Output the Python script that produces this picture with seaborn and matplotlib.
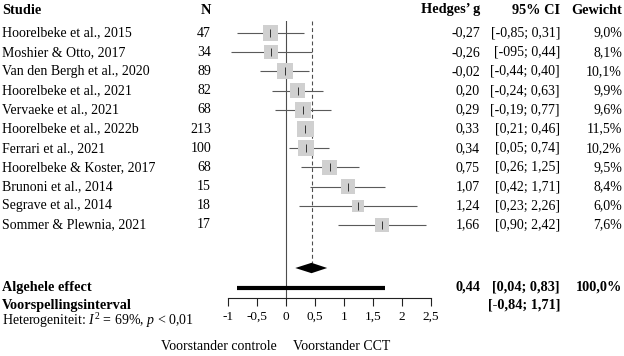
import matplotlib
matplotlib.use("Agg")
import matplotlib.pyplot as plt
import matplotlib.transforms as mtransforms
import seaborn as sns
import numpy as np
import pandas as pd

studies = ["Hoorelbeke et al., 2015", "Moshier & Otto, 2017", "Van den Bergh et al., 2020",
           "Hoorelbeke et al., 2021", "Vervaeke et al., 2021", "Hoorelbeke et al., 2022b",
           "Ferrari et al., 2021", "Hoorelbeke & Koster, 2017", "Brunoni et al., 2014",
           "Segrave et al., 2014", "Sommer & Plewnia, 2021"]
n_values = [47, 34, 89, 82, 68, 213, 100, 68, 15, 18, 17]
hedges_g = [-0.27, -0.26, -0.02, 0.20, 0.29, 0.33, 0.34, 0.75, 1.07, 1.24, 1.66]
ci_low = [-0.85, -0.95, -0.44, -0.24, -0.19, 0.21, 0.05, 0.26, 0.42, 0.23, 0.90]
ci_high = [0.31, 0.44, 0.40, 0.63, 0.77, 0.46, 0.74, 1.25, 1.71, 2.26, 2.42]
ci_labels = ["[-0,85; 0,31]", "[-095; 0,44]", "[-0,44; 0,40]", "[-0,24; 0,63]", "[-0,19; 0,77]",
             "[0,21; 0,46]", "[0,05; 0,74]", "[0,26; 1,25]", "[0,42; 1,71]", "[0,23; 2,26]",
             "[0,90; 2,42]"]
weights = [9.0, 8.1, 10.1, 9.9, 9.6, 11.5, 10.2, 9.5, 8.4, 6.0, 7.6]

overall_g = 0.44
overall_ci = (0.04, 0.83)
diamond_extent = (0.16, 0.71)
pred_interval = (-0.84, 1.71)
overall_ci_label = "[0,04; 0,83]"
pred_label = "[-0,84; 1,71]"
overall_weight_label = "100,0%"
x_ticks = [-1, -0.5, 0, 0.5, 1, 1.5, 2, 2.5]

def fmt(v, d=2):
    return f"{v:.{d}f}".replace(".", ",")

df = pd.DataFrame({"study": studies, "g": hedges_g, "lo": ci_low, "hi": ci_high,
                   "w": weights, "row": np.arange(len(studies))})

W, H = 624, 356
plt.rcParams["font.family"] = ["Liberation Serif", "DejaVu Serif"]
plt.rcParams["mathtext.fontset"] = "custom"
plt.rcParams["mathtext.rm"] = "Liberation Serif"
plt.rcParams["mathtext.it"] = "Liberation Serif:italic"
plt.rcParams["mathtext.bf"] = "Liberation Serif:bold"
fig = plt.figure(figsize=(W / 100, H / 100), dpi=100)

row0_px, row_step = 33.0, 19.2
def px_to_row(ypx):
    return (ypx - row0_px) / row_step

top_px, spine_px = 21, 298
x_left_px, x_right_px = 228, 431
ax = fig.add_axes([x_left_px / W, 1 - spine_px / H, (x_right_px - x_left_px) / W, (spine_px - top_px) / H])
ax.set_xlim(-1, 2.5)
ax.set_ylim(px_to_row(spine_px), px_to_row(top_px))

line_col = "#4d4d4d"
ax.hlines(df["row"], df["lo"], df["hi"], color="#5a5a5a", lw=0.8, zorder=1)
k = 13.0
sns.scatterplot(data=df, x="g", y="row", size="w", sizes=(6.0 * k, 11.5 * k), size_norm=(6.0, 11.5),
                marker="s", color="#d0d0d0", linewidth=0, legend=False, ax=ax, zorder=2)
sns.scatterplot(data=df, x="g", y="row", marker="|", s=28, color="#333333", linewidth=0.7,
                legend=False, ax=ax, zorder=3)

ax.axvline(0, color=line_col, lw=0.8, zorder=0)
diamond_row = px_to_row(268)
ax.vlines(overall_g, px_to_row(top_px), diamond_row - 0.26, colors=line_col, lw=0.8,
          linestyles=(0, (3.5, 2.5)), zorder=0)
ax.fill([diamond_extent[0], overall_g, diamond_extent[1], overall_g],
        [diamond_row, diamond_row - 0.27, diamond_row, diamond_row + 0.27], color="black", lw=0, zorder=4)
pred_row = px_to_row(288)
ax.hlines(pred_row, pred_interval[0], pred_interval[1], color="black", lw=3.0, zorder=4)

for s in ["top", "right", "left"]:
    ax.spines[s].set_visible(False)
ax.spines["bottom"].set_color("#222222")
ax.spines["bottom"].set_linewidth(0.8)
ax.set_yticks([])
ax.set_xticks(x_ticks)
ax.set_xticklabels([("%g" % t).replace(".", ",") for t in x_ticks])
ax.tick_params(axis="x", length=6, width=0.8, color="#222222", labelsize=9.5, pad=3)
ax.set_xlabel("")
ax.set_ylabel("")

tr = mtransforms.blended_transform_factory(fig.transFigure, ax.transData)
fs = 10
fsb = 10.3
def ftext(xpx, ypx, s, **kw):
    kw.setdefault("fontsize", fs)
    kw.setdefault("va", "center")
    fig.text(xpx / W, 1 - ypx / H, s, **kw)

hy = 10
ftext(2, hy, "Studie", fontweight="bold", ha="left", fontsize=fsb)
ftext(211, hy, "N", fontweight="bold", ha="right", fontsize=fsb)
ftext(480, hy, "Hedges\u2019 g", fontweight="bold", ha="right", fontsize=fsb)
ftext(560, hy, "95% CI", fontweight="bold", ha="right", fontsize=fsb)
ftext(622, hy, "Gewicht", fontweight="bold", ha="right", fontsize=fsb)

for i, row in df.iterrows():
    y = row["row"]
    fig.text(2 / W, y, row["study"], transform=tr, ha="left", va="center", fontsize=fs)
    fig.text(211 / W, y, str(n_values[i]), transform=tr, ha="right", va="center", fontsize=fs)
    fig.text(480 / W, y, fmt(row["g"]), transform=tr, ha="right", va="center", fontsize=fs)
    fig.text(560 / W, y, ci_labels[i], transform=tr, ha="right", va="center", fontsize=fs)
    fig.text(622 / W, y, fmt(row["w"], 1) + "%", transform=tr, ha="right", va="center", fontsize=fs)

ftext(2, 287, "Algehele effect", fontweight="bold", ha="left", fontsize=fsb)
ftext(480, 287, fmt(overall_g), fontweight="bold", ha="right", fontsize=fsb)
ftext(560, 287, overall_ci_label, fontweight="bold", ha="right", fontsize=fsb)
ftext(622, 287, overall_weight_label, fontweight="bold", ha="right", fontsize=fsb)
ftext(2, 305, "Voorspellingsinterval", fontweight="bold", ha="left", fontsize=fsb)
ftext(560, 305, pred_label, fontweight="bold", ha="right", fontsize=fsb)
ftext(2, 321, r"Heterogeniteit: $\mathit{I}^2$ = 69%, $\mathit{p}$ < 0,01", ha="left")

ftext(277, 347, "Voorstander controle", ha="right")
ftext(293, 347, "Voorstander CCT", ha="left")

fig.savefig("out.png", dpi=100)
